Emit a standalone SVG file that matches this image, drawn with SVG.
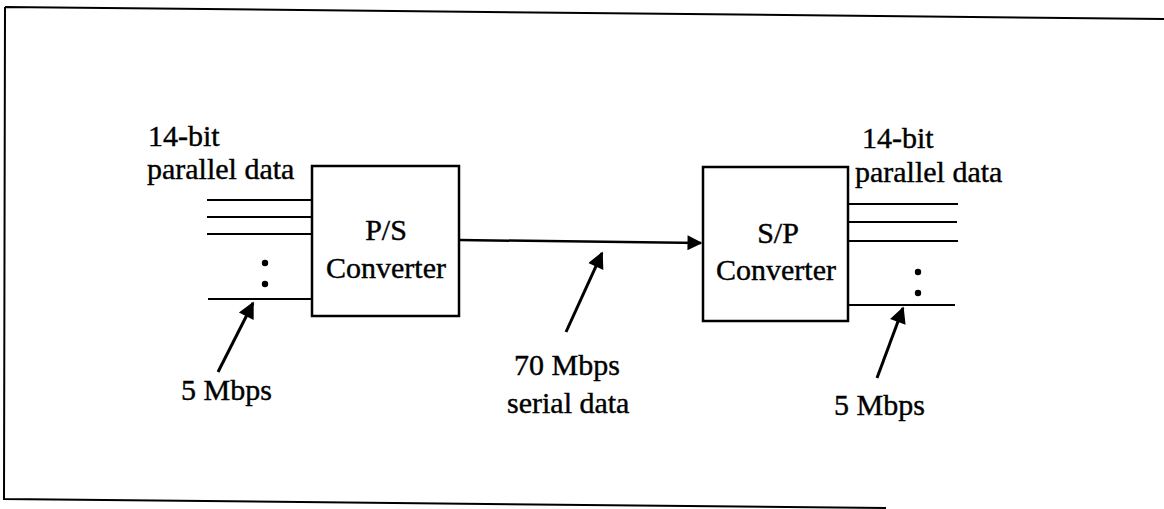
<svg xmlns="http://www.w3.org/2000/svg" width="1164" height="509" viewBox="0 0 1164 509">
<style>
text{font-family:"Liberation Serif","Times New Roman",serif;font-size:30px;fill:#000;stroke:#000;stroke-width:0.4}
.ln{stroke:#000;stroke-width:2;fill:none}
.box{stroke:#000;stroke-width:2.5;fill:#fff}
.ar{stroke:#000;stroke-width:3;fill:none}
</style>
<defs>
<marker id="ah" viewBox="0 0 10 10" refX="9" refY="5" markerWidth="6.5" markerHeight="5.5" markerUnits="strokeWidth" orient="auto">
<path d="M0,0 L10,5 L0,10 z" fill="#000"/>
</marker>
<marker id="ah2" viewBox="0 0 10 10" refX="9" refY="5" markerWidth="7" markerHeight="6" markerUnits="strokeWidth" orient="auto">
<path d="M0,0 L10,5 L0,10 z" fill="#000"/>
</marker>
</defs>
<g id="frame">
<path class="ln" d="M5,7 L1164,19 M5,7 L4,499 L886,508"/>
</g>
<g id="ps">
<rect class="box" x="312" y="166" width="147" height="150"/>
<text x="386" y="240" text-anchor="middle">P/S</text>
<text x="386" y="278" text-anchor="middle">Converter</text>
</g>
<g id="sp">
<rect class="box" x="703" y="167" width="145" height="154"/>
<text x="778" y="243" text-anchor="middle">S/P</text>
<text x="776" y="280" text-anchor="middle">Converter</text>
</g>
<g id="input">
<text x="148" y="146">14-bit</text>
<text x="147" y="179">parallel data</text>
<path class="ln" d="M207,200 H312 M207,217 H312 M207,234 H312 M208,299 H312"/>
<circle cx="265" cy="263" r="3.2"/>
<circle cx="265" cy="284" r="3.2"/>
</g>
<g id="output">
<text x="862" y="148">14-bit</text>
<text x="855" y="182">parallel data</text>
<path class="ln" d="M848,204 H958 M848,222 H957 M848,241 H958 M848,305 H955"/>
<circle cx="918" cy="272" r="3.2"/>
<circle cx="918" cy="293" r="3.2"/>
</g>
<g id="labels">
<text x="181" y="400">5 Mbps</text>
<text x="514" y="375">70 Mbps</text>
<text x="507" y="413">serial data</text>
<text x="834" y="415">5 Mbps</text>
</g>
<g id="connectors">
<path class="ln" d="M459,240 L701,243" marker-end="url(#ah2)" style="stroke-width:2.5"/>
<path class="ar" d="M218,372 L253,303" marker-end="url(#ah)"/>
<path class="ar" d="M566,332 L602,253" marker-end="url(#ah)"/>
<path class="ar" d="M877,378 L903,308" marker-end="url(#ah)"/>
</g>
</svg>
